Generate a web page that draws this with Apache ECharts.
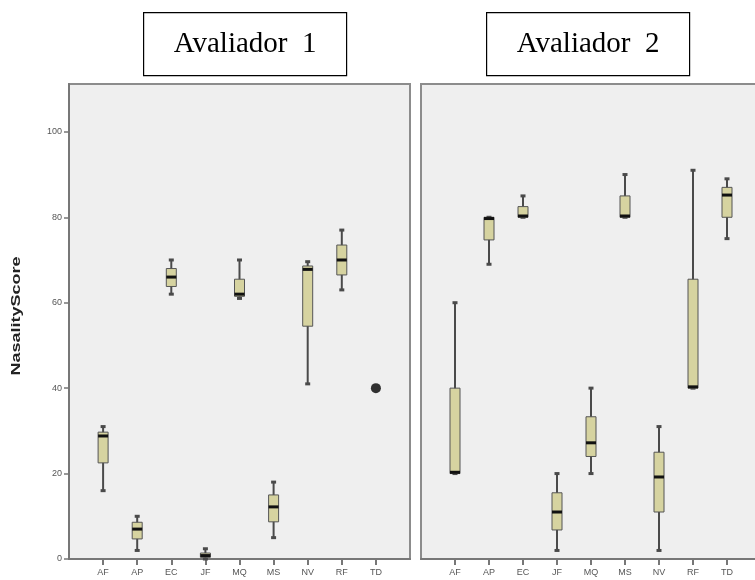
<!DOCTYPE html>
<html>
<head>
<meta charset="utf-8">
<script src="https://cdn.jsdelivr.net/npm/echarts@6/dist/echarts.min.js"></script>
<style>
  html, body { margin: 0; padding: 0; background: #fff; }
  #chart { width: 755px; height: 580px; }
</style>
</head>
<body>
<div id="chart"></div>
<script>
// categorias (grupos)
var categories = ['AF', 'AP', 'EC', 'JF', 'MQ', 'MS', 'NV', 'RF', 'TD'];
var yTicks = [0, 20, 40, 60, 80, 100];

// [min, Q1, mediana, Q3, max]
var aval1 = [
    [16, 22.5, 28.8, 29.7, 31],
    [2, 4.7, 7, 8.6, 10],
    [62, 63.8, 66, 68, 70],
    [0, 0.4, 0.8, 1.4, 2.4],
    [61, 61.5, 62, 65.5, 70],
    [5, 8.7, 12.2, 15, 18],
    [41, 54.5, 67.8, 68.6, 69.6],
    [63, 66.5, 70, 73.5, 77],
    null
];
var aval1Points = [['TD', 40]];   // caso isolado (todos iguais)

var aval2 = [
    [20, 20, 20.3, 40, 60],
    [69, 74.7, 79.7, 80, 80],
    [80, 80, 80.3, 82.5, 85],
    [2, 6.8, 11, 15.5, 20],
    [20, 24, 27.2, 33.3, 40],
    [80, 80, 80.3, 85, 90],
    [2, 11, 19.2, 25, 31],
    [40, 40, 40.3, 65.5, 91],
    [75, 80, 85.2, 87, 89]
];

var chart = echarts.init(document.getElementById('chart'));

// categorias com meia banda vazia nas pontas
var padded = [''].concat(categories).concat(['']);

function toRows(arr) {
    var rows = [];
    for (var i = 0; i < arr.length; i++) {
        if (arr[i]) rows.push([categories[i]].concat(arr[i]));
    }
    return rows;
}

function renderBox(params, api) {
    var cat = api.value(0);
    var pMin = api.coord([cat, api.value(1)]);
    var pQ1 = api.coord([cat, api.value(2)]);
    var pMed = api.coord([cat, api.value(3)]);
    var pQ3 = api.coord([cat, api.value(4)]);
    var pMax = api.coord([cat, api.value(5)]);
    var x = pMed[0];
    var w = 10;
    var dark = '#4a4a4a';
    return {
        type: 'group',
        children: [
            { type: 'line', shape: { x1: x, y1: pMax[1], x2: x, y2: pMin[1] },
              style: { stroke: dark, lineWidth: 2 } },
            { type: 'rect', shape: { x: x - 2.5, y: pMax[1] - 1.5, width: 5, height: 3 },
              style: { fill: dark } },
            { type: 'rect', shape: { x: x - 2.5, y: pMin[1] - 1.5, width: 5, height: 3 },
              style: { fill: dark } },
            { type: 'rect', shape: { x: x - w / 2, y: pQ3[1], width: w, height: Math.max(pQ1[1] - pQ3[1], 1.5) },
              style: { fill: '#d6d3a0', stroke: '#555', lineWidth: 1 } },
            { type: 'line', shape: { x1: x - w / 2, y1: pMed[1], x2: x + w / 2, y2: pMed[1] },
              style: { stroke: '#111', lineWidth: 3 } }
        ]
    };
}

var tickLabel = { color: '#555', fontSize: 9, fontFamily: 'Liberation Sans' };

function xAxisFor(gi) {
    return {
        type: 'category', gridIndex: gi, data: padded, boundaryGap: false,
        axisLine: { show: true, lineStyle: { color: '#777', width: 2 } },
        axisTick: { show: true, length: 6, inside: false,
            interval: function (i, v) { return v !== ''; },
            lineStyle: { color: '#777', width: 2 } },
        axisLabel: Object.assign({ margin: 9 }, tickLabel),
        splitLine: { show: false }
    };
}

function boxTitle(x, text) {
    return {
        type: 'group', left: x, top: 12,
        children: [
            { type: 'rect', shape: { x: 0, y: 0, width: 203, height: 63 },
              style: { fill: '#fff', stroke: '#000', lineWidth: 1.2 } },
            { type: 'text', x: 101.5, y: 32,
              style: { text: text, font: '29px "Liberation Serif"', fill: '#000',
                       align: 'center', verticalAlign: 'middle' } }
        ]
    };
}

chart.setOption({
    animation: false,
    backgroundColor: '#fff',
    graphic: [
        boxTitle(143, 'Avaliador  1'),
        boxTitle(486, 'Avaliador  2'),
        // titulo do eixo y, esticado como no original
        { type: 'text', x: 17, y: 316, rotation: Math.PI / 2, scaleX: 1.5,
          style: { text: 'NasalityScore', font: 'bold 12px "Liberation Sans"', fill: '#222',
                   align: 'center', verticalAlign: 'middle' } }
    ],
    grid: [
        { left: 69, top: 84, width: 341, height: 475, show: true, outerBoundsMode: 'none',
          backgroundColor: '#efefef', borderColor: '#8c8c8c', borderWidth: 2 },
        { left: 421, top: 84, width: 340, height: 475, show: true, outerBoundsMode: 'none',
          backgroundColor: '#efefef', borderColor: '#8c8c8c', borderWidth: 2 }
    ],
    xAxis: [xAxisFor(0), xAxisFor(1)],
    yAxis: [
        { type: 'value', gridIndex: 0, min: 0, max: 111.2,
          axisLine: { show: true, lineStyle: { color: '#777', width: 2 } },
          axisTick: { show: true, length: 5, customValues: yTicks, lineStyle: { color: '#777', width: 1.5 } },
          axisLabel: Object.assign({ margin: 7, customValues: yTicks }, tickLabel),
          splitLine: { show: false } },
        { type: 'value', gridIndex: 1, min: 0, max: 111.2,
          axisLine: { show: false }, axisTick: { show: false },
          axisLabel: { show: false }, splitLine: { show: false } }
    ],
    series: [
        { type: 'custom', xAxisIndex: 0, yAxisIndex: 0, renderItem: renderBox,
          encode: { x: 0, y: [1, 2, 3, 4, 5] }, data: toRows(aval1) },
        { type: 'scatter', xAxisIndex: 0, yAxisIndex: 0, symbol: 'circle', symbolSize: 10,
          itemStyle: { color: '#000' }, data: aval1Points },
        { type: 'custom', xAxisIndex: 1, yAxisIndex: 1, renderItem: renderBox,
          encode: { x: 0, y: [1, 2, 3, 4, 5] }, data: toRows(aval2) }
    ]
});
</script>
</body>
</html>
